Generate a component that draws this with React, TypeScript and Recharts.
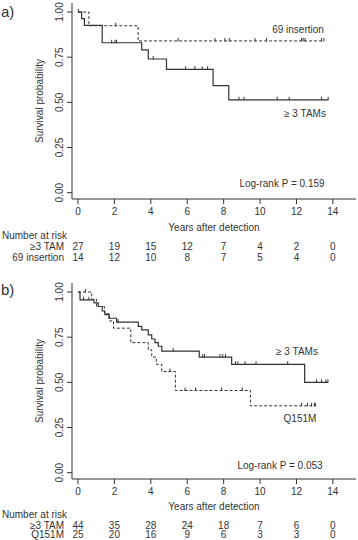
import { ComposedChart, Line, Scatter, XAxis, YAxis, Label } from "recharts";

const years = [0, 2, 4, 6, 8, 10, 12, 14];
const survTicks = [0, 0.25, 0.5, 0.75, 1];

// panel a) >=3 TAMs vs 69 insertion
const tamATimes = [0, 0.2, 0.35, 1.33, 3.5, 3.86, 4.86, 7.42, 8.28, 13.74];
const tamASurv = [1, 0.963, 0.926, 0.83, 0.79, 0.74, 0.683, 0.593, 0.514, 0.514];
const tamACensor = [1.85, 2.03, 2.12, 4.13, 5.91, 6.42, 6.82, 7.12, 8.84, 9.12, 10.94, 11.6, 13.38, 13.74];
const insTimes = [0, 0.6, 3.3, 13.51];
const insSurv = [1, 0.924, 0.84, 0.84];
const insCensor = [0.02, 2.07, 5.5, 7.52, 8.07, 8.31, 9.72, 10.36, 12.28, 12.37, 12.47, 13.38, 13.51];
const tamARisk = [27, 19, 15, 12, 7, 4, 2, 0];
const insRisk = [14, 12, 10, 8, 7, 5, 4, 0];

// panel b) >=3 TAMs vs Q151M
const tamBTimes = [0, 0.11, 0.88, 1.11, 1.33, 1.48, 1.72, 2.12, 3.31, 3.5, 3.86, 4.05, 4.23, 4.41, 4.6, 6.66, 8.44, 12.45, 13.73];
const tamBSurv = [1, 0.957, 0.94, 0.92, 0.895, 0.875, 0.855, 0.833, 0.81, 0.79, 0.763, 0.74, 0.72, 0.7, 0.673, 0.64, 0.6, 0.5, 0.5];
const tamBCensor = [0.3, 0.6, 2.2, 5.23, 6.85, 6.95, 7.8, 7.95, 8.1, 8.65, 8.78, 9.18, 9.78, 11.52, 13.1, 13.38, 13.62, 13.73];
const qTimes = [0, 0.75, 1.02, 1.45, 1.7, 1.95, 2.9, 3.86, 4.05, 4.3, 4.6, 5.35, 9.47, 13.04];
const qSurv = [1, 0.96, 0.92, 0.88, 0.84, 0.8, 0.72, 0.68, 0.64, 0.6, 0.56, 0.455, 0.37, 0.37];
const qCensor = [0.4, 5.05, 5.88, 6.46, 7.89, 9.02, 12.28, 12.6, 12.83, 12.98, 13.04];
const tamBRisk = [44, 35, 28, 24, 18, 7, 6, 0];
const qRisk = [25, 20, 16, 9, 6, 3, 3, 0];

const FONT = "'Liberation Sans', Arial, sans-serif";
const INK = "#333";

const steps = (t: number[], s: number[]) => t.map((v, i) => ({ t: v, s: s[i] }));

// censor mark sits on the curve value at that time
const censorPts = (c: number[], t: number[], s: number[]) =>
  c.map((ct) => {
    let v = s[0];
    for (let i = 0; i < t.length; i++) if (t[i] <= ct) v = s[i];
    return { t: ct, s: v };
  });

const CensorTick = (p: any) => (
  <line x1={p.cx} x2={p.cx} y1={p.cy - 3} y2={p.cy + 0.5} stroke={INK} strokeWidth={1} />
);

type Pt = { t: number; s: number };
type PanelProps = {
  letter: string;
  letterY: number;
  top: number;
  axisH: number;
  solid: Pt[];
  solidC: Pt[];
  dashed: Pt[];
  dashedC: Pt[];
  rows: number[][];
  rowNames: string[];
  // baselines below the axis line: title, header, row 1, row 2
  textY: number[];
  notes: { text: string; x: number; y: number }[];
};

function Panel(p: PanelProps) {
  const [titleY, headY, r1Y, r2Y] = p.textY;
  return (
    <ComposedChart
      width={358}
      height={270}
      margin={{ top: p.top, right: 2, bottom: 0, left: 0 }}
      style={{ fontFamily: FONT }}
    >
      <XAxis
        dataKey="t"
        type="number"
        domain={[-0.33, 15.27]}
        ticks={years}
        allowDataOverflow
        height={p.axisH}
        stroke={INK}
        tickSize={5}
        tickMargin={0}
        tick={(tp: any) => {
          const i = years.indexOf(tp.payload.value);
          return (
            <g fontSize={10} fill={INK} textAnchor="middle" fontFamily={FONT}>
              <text x={tp.x} y={tp.y + 10.5}>{tp.payload.value}</text>
              <text x={tp.x} y={tp.y - 5 + r1Y}>{p.rows[0][i]}</text>
              <text x={tp.x} y={tp.y - 5 + r2Y}>{p.rows[1][i]}</text>
            </g>
          );
        }}
      >
        <Label
          content={(lp: any) => {
            const vb = lp.viewBox;
            return (
              <g fontSize={10} fill={INK} fontFamily={FONT}>
                <text x={vb.x + vb.width / 2} y={vb.y + titleY} textAnchor="middle">
                  Years after detection
                </text>
                <text x={2} y={vb.y + headY}>Number at risk</text>
                <text x={64} y={vb.y + r1Y} textAnchor="end">{p.rowNames[0]}</text>
                <text x={64} y={vb.y + r2Y} textAnchor="end">{p.rowNames[1]}</text>
              </g>
            );
          }}
        />
      </XAxis>
      <YAxis
        dataKey="s"
        type="number"
        domain={[-0.035, 1.05]}
        ticks={survTicks}
        allowDataOverflow
        width={72}
        stroke={INK}
        tickSize={5}
        tickMargin={0}
        tick={(tp: any) => (
          <text
            x={tp.x - 3.5}
            y={tp.y}
            transform={`rotate(-90, ${tp.x - 3.5}, ${tp.y})`}
            textAnchor="middle"
            fontSize={10}
            fill={INK}
            fontFamily={FONT}
          >
            {tp.payload.value.toFixed(2)}
          </text>
        )}
      >
        <Label
          content={(lp: any) => {
            const vb = lp.viewBox;
            const cy = vb.y + vb.height / 2;
            return (
              <g fill={INK} fontFamily={FONT}>
                <text x={42.5} y={cy} transform={`rotate(-90, 42.5, ${cy})`} textAnchor="middle" fontSize={10}>
                  Survival probability
                </text>
                <text x={1} y={p.letterY} fontSize={15}>{p.letter}</text>
              </g>
            );
          }}
        />
      </YAxis>
      <Line data={p.dashed} dataKey="s" type="stepAfter" stroke={INK} strokeWidth={1} strokeDasharray="3 2" dot={false} isAnimationActive={false} />
      <Line data={p.solid} dataKey="s" type="stepAfter" stroke={INK} strokeWidth={1.2} dot={false} isAnimationActive={false} />
      <Scatter data={p.dashedC} dataKey="s" shape={CensorTick} isAnimationActive={false} />
      <Scatter data={p.solidC} dataKey="s" shape={CensorTick} isAnimationActive={false} />
      {p.notes.map((n) => (
        <text key={n.text} x={n.x} y={n.y} textAnchor="middle" fontSize={10} fill={INK} fontFamily={FONT}>
          {n.text}
        </text>
      ))}
    </ComposedChart>
  );
}

export default function App() {
  return (
    <div style={{ position: "absolute", left: 0, top: 0, width: 358, height: 540, background: "#fff" }}>
      <Panel
        letter="a)"
        letterY={17}
        top={3}
        axisH={71}
        solid={steps(tamATimes, tamASurv)}
        solidC={censorPts(tamACensor, tamATimes, tamASurv)}
        dashed={steps(insTimes, insSurv)}
        dashedC={censorPts(insCensor, insTimes, insSurv)}
        rows={[tamARisk, insRisk]}
        rowNames={["≥3 TAM", "69 insertion"]}
        textY={[31.5, 39.5, 50.5, 61.5]}
        notes={[
          { text: "69 insertion", x: 298, y: 32.5 },
          { text: "≥ 3 TAMs", x: 305, y: 116.5 },
          { text: "Log-rank P = 0.159", x: 282, y: 186.5 },
        ]}
      />
      <Panel
        letter="b)"
        letterY={25}
        top={13}
        axisH={61}
        solid={steps(tamBTimes, tamBSurv)}
        solidC={censorPts(tamBCensor, tamBTimes, tamBSurv)}
        dashed={steps(qTimes, qSurv)}
        dashedC={censorPts(qCensor, qTimes, qSurv)}
        rows={[tamBRisk, qRisk]}
        rowNames={["≥3 TAM", "Q151M"]}
        textY={[30.5, 38.5, 49.5, 59]}
        notes={[
          { text: "≥ 3 TAMs", x: 297, y: 84.5 },
          { text: "Q151M", x: 300, y: 151.5 },
          { text: "Log-rank P = 0.053", x: 280, y: 198.5 },
        ]}
      />
    </div>
  );
}
